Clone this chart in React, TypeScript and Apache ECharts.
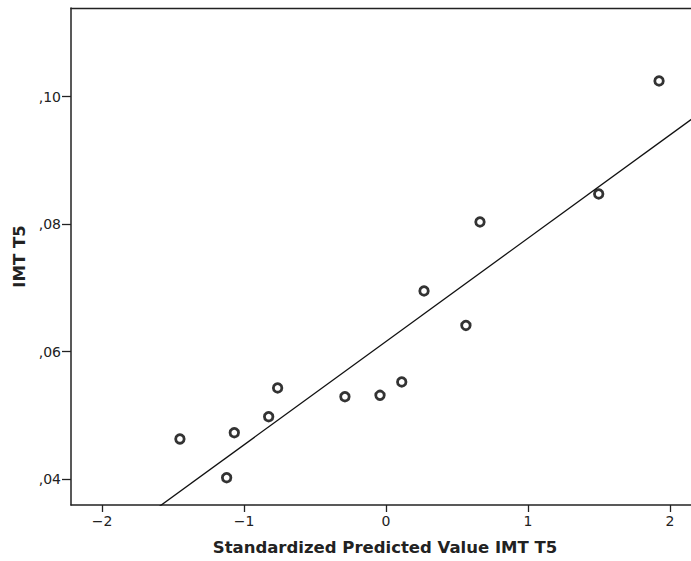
import React, { useEffect, useRef } from "react";
import * as echarts from "echarts";

const predicted = [-1.451, -1.122, -1.068, -0.826, -0.763, -0.289, -0.042, 0.111, 0.268, 0.563, 0.662, 1.498, 1.923];
const imtT5 = [0.04632, 0.04025, 0.04731, 0.04982, 0.05432, 0.05295, 0.05317, 0.05526, 0.06953, 0.06412, 0.08035, 0.08474, 0.10246];
const fitIntercept = 0.0616;
const fitSlope = 0.0162;
const xTicks = [-2, -1, 0, 1, 2];
const yTicks = [0.04, 0.06, 0.08, 0.1];

export default function App() {
  const ref = useRef<HTMLDivElement>(null);
  useEffect(() => {
    document.body.style.margin = "0";
    const chart = echarts.init(ref.current!, null, { renderer: "svg" });
    const xMin = -2.218;
    const xMax = 2.148;
    const fitData = [xMin - 0.5, xMax + 0.5].map((x) => [x, fitIntercept + fitSlope * x]);
    const font = "DejaVu Sans";
    chart.setOption({
      animation: false,
      backgroundColor: "#fff",
      grid: {
        left: 71,
        right: 0,
        top: 8,
        bottom: 56,
        containLabel: false,
      },
      xAxis: [
        {
          type: "value",
          min: xMin,
          max: xMax,
          name: "Standardized Predicted Value IMT T5",
          nameLocation: "middle",
          nameGap: 34,
          nameTextStyle: { fontFamily: font, fontWeight: "bold", fontSize: 16.5, color: "#222", padding: [0, 0, 0, 8] },
          splitLine: { show: false },
          axisLine: { show: true, onZero: false, lineStyle: { color: "#222", width: 1.5 } },
          axisTick: { show: true, length: 7, customValues: xTicks, lineStyle: { color: "#222", width: 1.3 } },
          axisLabel: {
            customValues: xTicks,
            fontFamily: font,
            fontSize: 14,
            color: "#222",
            margin: 9,
            formatter: (v: number) => (v < 0 ? "\u2212" + Math.abs(v) : String(v)),
          },
        },
        {
          type: "value",
          position: "top",
          min: xMin,
          max: xMax,
          splitLine: { show: false },
          axisLine: { show: true, onZero: false, lineStyle: { color: "#222", width: 1.3 } },
          axisTick: { show: false },
          axisLabel: { show: false },
        },
      ],
      yAxis: {
        type: "value",
        min: 0.03597,
        max: 0.1139,
        name: "IMT T5",
        nameLocation: "middle",
        nameRotate: 90,
        nameGap: 43,
        nameTextStyle: { fontFamily: font, fontWeight: "bold", fontSize: 16.5, color: "#222" },
        splitLine: { show: false },
        axisLine: { show: true, onZero: false, lineStyle: { color: "#222", width: 1.5 } },
        axisTick: { show: true, length: 9, customValues: yTicks, lineStyle: { color: "#222", width: 1.3 } },
        axisLabel: {
          customValues: yTicks,
          fontFamily: font,
          fontSize: 14,
          color: "#222",
          margin: 10,
          formatter: (v: number) => v.toFixed(2).replace("0.", ","),
        },
      },
      series: [
        {
          type: "line",
          data: fitData,
          symbol: "none",
          clip: true,
          lineStyle: { color: "#111", width: 1.3 },
          silent: true,
          z: 1,
        },
        {
          type: "scatter",
          data: predicted.map((x, i) => [x, imtT5[i]]),
          symbol: "circle",
          symbolSize: 8.5,
          itemStyle: { color: "#fff", borderColor: "#000", borderWidth: 2.8 },
          z: 2,
        },
      ],
    });
    return () => chart.dispose();
  }, []);
  return <div ref={ref} style={{ width: 691, height: 561 }} />;
}
